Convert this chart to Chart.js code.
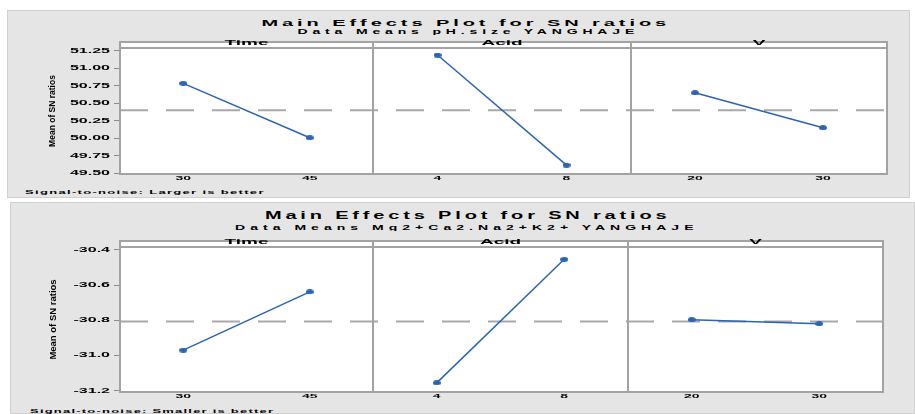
<!DOCTYPE html>
<html>
<head>
<meta charset="utf-8">
<script src="https://cdn.jsdelivr.net/npm/chart.js@4.4.1/dist/chart.umd.min.js"></script>
<style>
  html, body { margin: 0; padding: 0; width: 915px; height: 414px; overflow: hidden; background: #fff;
    font-family: "Liberation Sans", Arial, sans-serif; }
  .fig { position: absolute; background: #e5e5e5; border: 1px solid #d0d0d0; box-sizing: border-box; }
  canvas { position: absolute; }
  .txt { position: absolute; white-space: nowrap; font-weight: bold; color: #000; line-height: 1;
    transform-origin: center center; }
</style>
</head>
<body>
<div class="fig" style="left:7px;top:10px;width:903px;height:188px"></div>
<div class="fig" style="left:10px;top:202px;width:905px;height:212px"></div>

<script>
// ---- data ----
const factorNames = ['Time', 'Acid', 'V'];
const timeLevels = ['30', '45'];
const acidLevels = ['4', '8'];
const vLevels = ['20', '30'];

// upper plot: SN ratio means per level
const upperTime = [50.784, 50.007];
const upperAcid = [51.189, 49.617];
const upperV = [50.65, 50.15];
const upperGrandMean = [50.40];
const upperTicks = [49.5, 49.75, 50.0, 50.25, 50.5, 50.75, 51.0, 51.25];

// lower plot: SN ratio means per level
const lowerTime = [-30.969, -30.638];
const lowerAcid = [-31.155, -30.453];
const lowerV = [-30.796, -30.819];
const lowerGrandMean = [-30.806];
const lowerTicks = [-31.2, -31.0, -30.8, -30.6, -30.4];

const upperTitle = 'Main Effects Plot for SN ratios';
const upperSubtitle = 'Data Means pH.size YANGHAJE';
const upperNote = 'Signal-to-noise: Larger is better';
const lowerTitle = 'Main Effects Plot for SN ratios';
const lowerSubtitle = 'Data Means Mg2+Ca2.Na2+K2+ YANGHAJE';
const lowerNote = 'Signal-to-noise: Smaller is better';
const yAxisTitle = 'Mean of SN ratios';

// ---- styling ----
const FONT = '"Liberation Sans", Arial, sans-serif';
const BLUE = '#2a64b2';
const FRAME = '#a3a3a3';
const STRIP_H = 6;
const SQUASH = 0.42;       // flattened lettering of the plot texts
const DASH_ORIGIN = 120;   // dash phase of the mean line starts at the first panel

// Horizontal texts on the panels are drawn flattened vertically.
function flattenText(ctx) {
  const fill = ctx.fillText;
  ctx.fillText = function (text, x, y, maxWidth) {
    const m = this.getTransform();
    if (Math.abs(m.b) > 1e-6) {
      return maxWidth === undefined ? fill.call(this, text, x, y) : fill.call(this, text, x, y, maxWidth);
    }
    this.save();
    this.translate(x, y);
    this.scale(1, SQUASH);
    if (maxWidth === undefined) fill.call(this, text, 0, 0); else fill.call(this, text, 0, 0, maxWidth);
    this.restore();
  };
}

function markerImage() {
  const c = document.createElement('canvas');
  c.width = 8; c.height = 5;
  const g = c.getContext('2d');
  g.fillStyle = BLUE;
  g.beginPath();
  g.ellipse(4, 2.5, 4, 2.5, 0, 0, Math.PI * 2);
  g.fill();
  return c;
}
const MARKER = markerImage();

const panelFrame = {
  id: 'panelFrame',
  beforeDraw(chart) {
    const { ctx, chartArea: a } = chart;
    ctx.save();
    ctx.fillStyle = '#fff';
    ctx.fillRect(a.left, a.top - STRIP_H, a.right - a.left, a.bottom - a.top + STRIP_H);
    ctx.restore();
  },
  beforeDatasetsDraw(chart, args, o) {
    const { ctx, chartArea: a, scales } = chart;
    const py = scales.y.getPixelForValue(o.mean);
    ctx.save();
    ctx.strokeStyle = '#a9a9a9';
    ctx.lineWidth = 2;
    ctx.setLineDash([28, 18]);
    ctx.lineDashOffset = chart.canvas.offsetLeft + a.left - DASH_ORIGIN;
    ctx.beginPath();
    ctx.moveTo(a.left, py);
    ctx.lineTo(a.right, py);
    ctx.stroke();
    ctx.setLineDash([]);
    ctx.strokeStyle = FRAME;
    ctx.lineWidth = 2;
    ctx.strokeRect(a.left, a.top - STRIP_H, a.right - a.left, a.bottom - a.top + STRIP_H);
    ctx.beginPath();
    ctx.moveTo(a.left, a.top);
    ctx.lineTo(a.right, a.top);
    ctx.stroke();
    ctx.restore();
  },
  afterDraw(chart, args, o) {
    const { ctx, chartArea: a } = chart;
    ctx.save();
    ctx.fillStyle = '#000';
    ctx.font = 'bold 19px ' + FONT;
    ctx.textAlign = 'center';
    ctx.textBaseline = 'middle';
    ctx.fillText(o.label, (a.left + a.right) / 2, a.top - STRIP_H + 1);
    ctx.restore();
  }
};

function makePanel(p) {
  const cv = document.createElement('canvas');
  cv.width = p.w; cv.height = p.h;
  cv.style.left = p.x + 'px'; cv.style.top = p.y + 'px';
  cv.style.width = p.w + 'px'; cv.style.height = p.h + 'px';
  document.body.appendChild(cv);
  const ctx = cv.getContext('2d');
  flattenText(ctx);
  return new Chart(ctx, {
    type: 'line',
    data: {
      labels: p.levels,
      datasets: [{
        data: p.values,
        borderColor: BLUE,
        backgroundColor: BLUE,
        borderWidth: 1.5,
        pointStyle: MARKER,
        pointRadius: 4,
        tension: 0
      }]
    },
    options: {
      responsive: false,
      animation: false,
      events: [],
      devicePixelRatio: 1,
      layout: { autoPadding: false, padding: { left: p.padL, right: p.padR, top: 12, bottom: 0 } },
      plugins: {
        legend: { display: false },
        tooltip: { enabled: false },
        panelFrame: { mean: p.mean, label: p.label }
      },
      scales: {
        x: {
          type: 'category',
          offset: true,
          grid: { display: false, drawTicks: false },
          border: { display: false },
          ticks: { color: '#000', font: { family: FONT, size: 14, weight: 'bold', lineHeight: 0.6 },
                   padding: 0.5, maxRotation: 0, autoSkip: false },
          afterFit(s) { s.height = 12; }
        },
        y: {
          display: p.showY,
          min: p.min, max: p.max,
          border: { display: false },
          grid: { drawOnChartArea: false, drawTicks: true, tickLength: 6, color: '#8a8a8a', lineWidth: 1 },
          ticks: { color: '#000', font: { family: FONT, size: 16, weight: 'bold', lineHeight: 0.6 },
                   padding: 4, autoSkip: false,
                   callback: (v) => Number(v).toFixed(p.decimals) },
          afterBuildTicks(s) { s.ticks = p.ticks.map((v) => ({ value: v })); },
          afterFit(s) { s.width = p.showY ? 100 : 0; },
          title: { display: true, text: yAxisTitle, color: '#000',
                   font: { family: FONT, size: p.yTitleSize, weight: 'bold' }, padding: { top: 28, bottom: 0 } }
        }
      }
    },
    plugins: [panelFrame]
  });
}

function buildRow(r) {
  const levels = [timeLevels, acidLevels, vLevels];
  const values = [r.time, r.acid, r.v];
  r.panels.forEach((box, i) => {
    makePanel({
      x: box[0], y: r.top, w: box[1], h: r.height, padL: box[2], padR: 3,
      showY: i === 0, levels: levels[i], values: values[i], label: factorNames[i],
      min: r.min, max: r.max, ticks: r.ticks, decimals: r.decimals, mean: r.mean[0],
      yTitleSize: r.yTitleSize
    });
  });
}

// upper plot: panels 120-373, 373-631, 631-887; plot area 48-174
buildRow({
  top: 36, height: 150, time: upperTime, acid: upperAcid, v: upperV,
  min: 49.49, max: 51.289, ticks: upperTicks, decimals: 2, mean: upperGrandMean, yTitleSize: 8.5,
  panels: [[20, 356, 0], [370, 264, 3], [628, 262, 3]]
});
// lower plot: panels 120-373, 373-628, 628-883; plot area 247-392
buildRow({
  top: 235, height: 169, time: lowerTime, acid: lowerAcid, v: lowerV,
  min: -31.207, max: -30.383, ticks: lowerTicks, decimals: 1, mean: lowerGrandMean, yTitleSize: 9.5,
  panels: [[20, 356, 0], [370, 261, 3], [625, 261, 3]]
});

// headings and notes, spread to their width and flattened
function placeText(text, cx, cy, width, size, sy, left) {
  const d = document.createElement('div');
  d.className = 'txt';
  d.textContent = text;
  d.style.fontSize = size + 'px';
  document.body.appendChild(d);
  const w0 = d.offsetWidth;
  const ls = (width - w0) / Math.max(text.length - 1, 1);
  d.style.letterSpacing = ls + 'px';
  const w = d.offsetWidth - ls;
  const h = d.offsetHeight;
  d.style.left = (left !== undefined ? left : cx - w / 2) + 'px';
  d.style.top = (cy - h / 2) + 'px';
  d.style.transform = 'scaleY(' + sy + ')';
  if (left !== undefined) d.style.transformOrigin = 'left center';
}

placeText(upperTitle, 464, 22.5, 405, 20, 0.45);
placeText(upperSubtitle, 466, 31.2, 337, 14, 0.5);
placeText(upperNote, 0, 191, 238, 13, 0.45, 25);
placeText(lowerTitle, 466, 215, 402, 20, 0.5);
placeText(lowerSubtitle, 464.5, 227, 459, 14, 0.5);
placeText(lowerNote, 0, 410.5, 243, 13, 0.45, 30);
</script>
</body>
</html>
